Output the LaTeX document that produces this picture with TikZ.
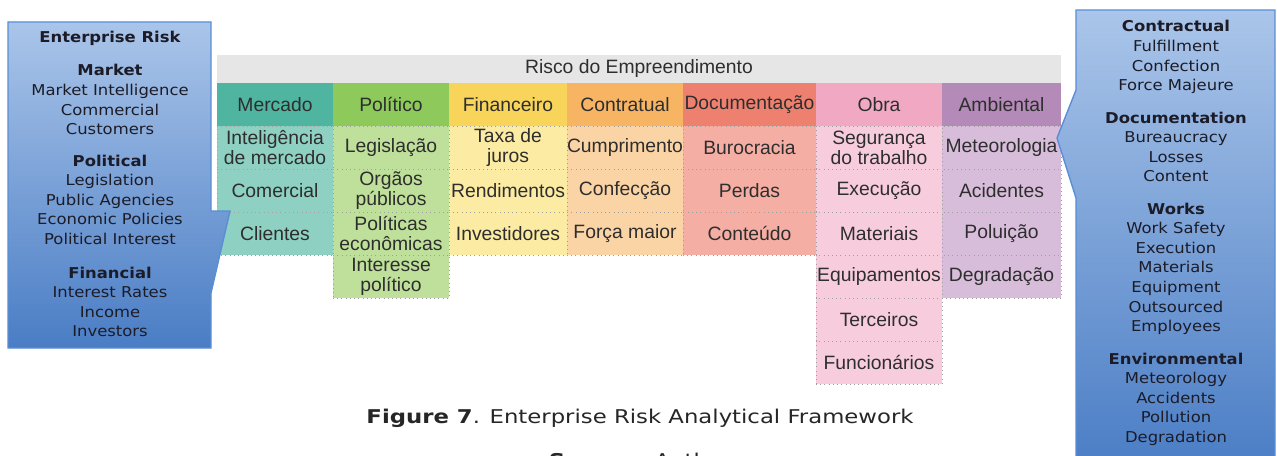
\documentclass[tikz,border=0pt]{standalone}
\usepackage{fontspec}
\setmainfont{Liberation Sans}
\newfontfamily\boxfont[FakeStretch=1.1]{DejaVu Sans}
\newfontfamily\capfont[FakeStretch=1.2]{DejaVu Sans}
\usepackage{tikz}
\usetikzlibrary{calc, positioning}
\newlength{\px}
\setlength{\px}{0.02cm}

% category colours: header / items
\definecolor{mercH}{HTML}{4FB5A0}
\definecolor{mercI}{HTML}{8ED0C2}
\definecolor{poliH}{HTML}{8DC95B}
\definecolor{poliI}{HTML}{BEE09A}
\definecolor{finaH}{HTML}{F8D55A}
\definecolor{finaI}{HTML}{FCEBA2}
\definecolor{contH}{HTML}{F7B463}
\definecolor{contI}{HTML}{FBD4A5}
\definecolor{docuH}{HTML}{EE8070}
\definecolor{docuI}{HTML}{F5AEA3}
\definecolor{obraH}{HTML}{F1A9C3}
\definecolor{obraI}{HTML}{F7CDDD}
\definecolor{ambiH}{HTML}{B48AB8}
\definecolor{ambiI}{HTML}{D7BDDA}
\definecolor{bandgray}{HTML}{E6E6E6}
\definecolor{txtgray}{HTML}{2E2E2E}
% callout boxes
\definecolor{boxtop}{HTML}{AAC5E9}
\definecolor{boxbot}{HTML}{4A7DC5}
\definecolor{boxedge}{HTML}{5A8ED6}
\definecolor{boxtext}{HTML}{1C1C28}

\begin{document}
\begin{tikzpicture}[x=0.02cm, y=-0.02cm,
    cathead/.style={inner sep=0pt, minimum height={43*\px}, text=txtgray,
        font=\fontsize{11}{11.5}\selectfont},
    catitem/.style={cathead, draw=gray!75, dotted, align=center},
    boxhead/.style={anchor=base, inner sep=0pt, text=boxtext,
        font=\boxfont\fontsize{8.5}{10}\selectfont\bfseries},
    boxitem/.style={boxhead, font=\boxfont\fontsize{8.5}{10}\selectfont},
    caption/.style={inner sep=0pt, text=black!85,
        font=\capfont\fontsize{10.8}{12}\selectfont}]
    \def\lineStep{19.6}

    % 1: id
    % 2: left x
    % 3: width
    % 4: header colour, 5: item colour
    % 6: header text, 7: items
    \newcommand{\RiskCol}[7]{
        \node [cathead, fill=#4, minimum width={#3*\px}] (#1) at ({#2+#3/2}, 104.5) {#6};
        \foreach \txt [count=\i] in {#7}{
            \node [catitem, fill=#5, minimum width={#3*\px}] (#1-\i) at ({#2+#3/2}, {126+(\i-0.5)*43}) {\txt};
        }
    }

    % 1: id, 2: x, 3: baseline of title, 4: title, 5: lines
    \newcommand{\BoxGroup}[5]{
        \node [boxhead] (#1) at (#2, #3) {#4};
        \foreach \txt [count=\i] in {#5}{
            \node [boxitem] (#1-\i) at (#2, {#3+\i*\lineStep}) {\txt};
        }
    }

    \path [use as bounding box, clip] (0,0) rectangle (1277,456);

    % The table in itself
    \node [cathead, fill=bandgray, minimum width={844*\px}, minimum height={28*\px}] (band) at (639, 69) {Risco do Empreendimento};

    \RiskCol{merc}{217}{116}{mercH}{mercI}{Mercado}{{Inteligência\\de mercado},Comercial,Clientes}
    \RiskCol{poli}{333}{116}{poliH}{poliI}{Político}{Legislação,{Orgãos\\públicos},{Políticas\\econômicas},{Interesse\\político}}
    \RiskCol{fina}{449}{118}{finaH}{finaI}{Financeiro}{{Taxa de\\juros},Rendimentos,Investidores}
    \RiskCol{cont}{567}{116}{contH}{contI}{Contratual}{Cumprimento,Confecção,Força maior}
    \RiskCol{docu}{683}{133}{docuH}{docuI}{Documentação}{Burocracia,Perdas,Conteúdo}
    \RiskCol{obra}{816}{126}{obraH}{obraI}{Obra}{{Segurança\\do trabalho},Execução,Materiais,Equipamentos,Terceiros,Funcionários}
    \RiskCol{ambi}{942}{119}{ambiH}{ambiI}{Ambiental}{Meteorologia,Acidentes,Poluição,Degradação}

    % Left callout
    \path [draw=boxedge, line width=0.8pt, top color=boxtop, bottom color=boxbot]
        (8,22) -- (211,22) -- (211,211) -- (230,211) -- (211,293) -- (211,348) -- (8,348) -- cycle;
    \node [boxhead] (lrisk) at (110, 43) {Enterprise Risk};
    \BoxGroup{lmarket}{110}{76}{Market}{Market Intelligence,Commercial,Customers}
    \BoxGroup{lpolit}{110}{166}{Political}{Legislation,Public Agencies,Economic Policies,Political Interest}
    \BoxGroup{lfinan}{110}{278}{Financial}{Interest Rates,Income,Investors}

    % Right callout
    \path [draw=boxedge, line width=0.8pt, top color=boxtop, bottom color=boxbot]
        (1076,10) -- (1275,10) -- (1275,470) -- (1076,470) -- (1076,198) -- (1057,138) -- (1076,90) -- cycle;
    \BoxGroup{rcontr}{1176}{32}{Contractual}{Fulfillment,Confection,Force Majeure}
    \BoxGroup{rdocum}{1176}{123}{Documentation}{Bureaucracy,Losses,Content}
    \BoxGroup{rworks}{1176}{214}{Works}{Work Safety,Execution,Materials,Equipment,Outsourced,Employees}
    \BoxGroup{renvir}{1176}{364}{Environmental}{Meteorology,Accidents,Pollution,Degradation}

    % caption
    \node [caption] (cap) at (640, 418) {\textbf{Figure 7}. Enterprise Risk Analytical Framework};
    \node [caption, anchor=base] (src) at (646, 467) {\textbf{Source}: Authors};

\end{tikzpicture}
\end{document}
